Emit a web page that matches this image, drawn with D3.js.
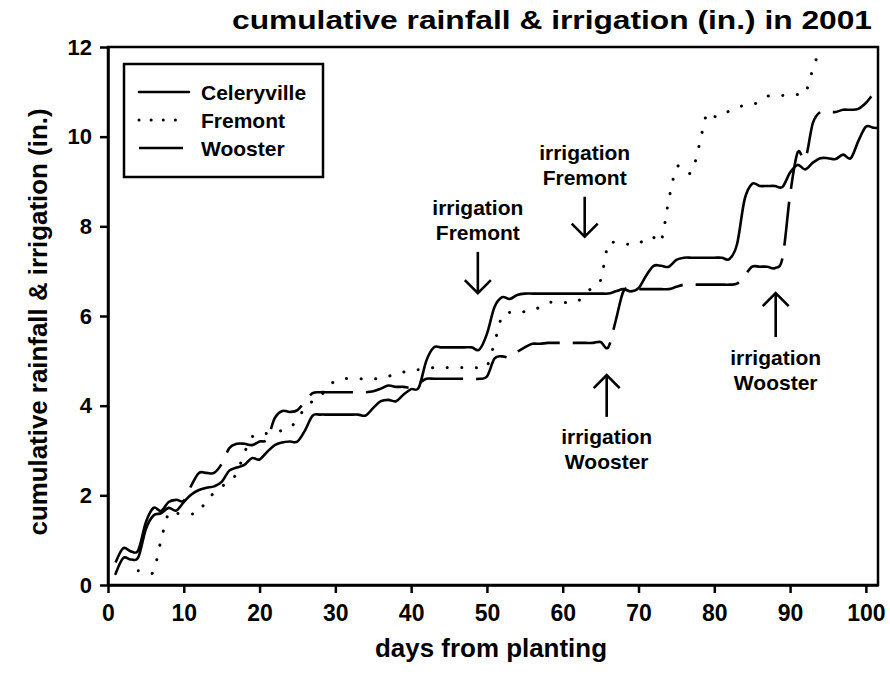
<!DOCTYPE html>
<html>
<head>
<meta charset="utf-8">
<script src="https://cdn.jsdelivr.net/npm/d3@7"></script>
<style>
  body { margin: 0; background: #fff; }
  svg text { font-family: "Liberation Sans", Arial, sans-serif; font-weight: bold; fill: #000; }
  .axis path, .axis line { stroke: #000; stroke-width: 2.5; }
</style>
</head>
<body>
<svg id="chart" width="890" height="691"></svg>
<script>
// days from planting (x categories)
const days = d3.range(1, 103);
const fremontFirstDay = 4;

// cumulative rainfall & irrigation (in.), one value per day
const celeryville = [
  0.25, 0.6, 0.57, 0.62, 1.25, 1.55, 1.6, 1.72, 1.66, 1.85,
  2.02, 2.12, 2.17, 2.2, 2.3, 2.55, 2.62, 2.68, 2.83, 2.8,
  2.97, 3.12, 3.18, 3.2, 3.2, 3.45, 3.78, 3.8, 3.8, 3.8,
  3.8, 3.8, 3.8, 3.78, 3.95, 4.1, 4.13, 4.1, 4.25, 4.37,
  4.4, 5.0, 5.3, 5.3, 5.3, 5.3, 5.3, 5.3, 5.25, 5.6,
  6.2, 6.42, 6.38, 6.47, 6.5, 6.5, 6.5, 6.5, 6.5, 6.5,
  6.5, 6.5, 6.5, 6.5, 6.5, 6.5, 6.55, 6.6, 6.55, 6.62,
  6.9, 7.12, 7.12, 7.1, 7.25, 7.3, 7.3, 7.3, 7.3, 7.3,
  7.3, 7.27, 7.6, 8.6, 8.95, 8.9, 8.9, 8.9, 8.88, 9.2,
  9.37, 9.27, 9.42, 9.52, 9.52, 9.5, 9.6, 9.52, 9.9, 10.22,
  10.2, 10.18
];
const wooster = [
  0.5, 0.82, 0.75, 0.78, 1.4, 1.72, 1.65, 1.85, 1.9, 1.88,
  2.22, 2.5, 2.5, 2.5, 2.7, 3.05, 3.15, 3.15, 3.12, 3.2,
  3.25, 3.72, 3.88, 3.86, 3.9, 4.1, 4.28, 4.3, 4.3, 4.3,
  4.3, 4.3, 4.3, 4.3, 4.32, 4.38, 4.45, 4.42, 4.42, 4.4,
  4.5, 4.6, 4.6, 4.6, 4.6, 4.6, 4.6, 4.6, 4.6, 4.65,
  5.05, 5.1, 5.08, 5.2, 5.3, 5.38, 5.38, 5.4, 5.4, 5.4,
  5.4, 5.4, 5.4, 5.4, 5.42, 5.3, 5.9, 6.55, 6.6, 6.6,
  6.6, 6.6, 6.6, 6.6, 6.65, 6.7, 6.7, 6.7, 6.7, 6.7,
  6.7, 6.7, 6.72, 6.9, 7.1, 7.1, 7.1, 7.07, 7.3, 8.7,
  9.65, 9.5, 10.3, 10.55, 10.55, 10.55, 10.6, 10.6, 10.62, 10.75,
  10.95, 11.05
];
const fremont = [
  0.32, 0.3, 0.3, 1.0, 1.6, 1.6, 1.58,
  1.58, 1.62, 1.9, 2.05, 2.2, 2.3, 2.5, 2.95, 3.3, 3.38,
  3.38, 3.4, 3.45, 3.5, 3.7, 3.95, 4.1, 4.2, 4.42, 4.55,
  4.6, 4.6, 4.6, 4.6, 4.6, 4.6, 4.65, 4.72, 4.75, 4.8,
  4.8, 4.82, 4.85, 4.85, 4.85, 4.85, 4.85, 4.85, 4.85, 4.88,
  5.4, 6.0, 6.08, 6.05, 6.1, 6.13, 6.2, 6.3, 6.3, 6.3,
  6.3, 6.33, 6.5, 6.65, 6.8, 7.6, 7.62, 7.6, 7.6, 7.6,
  7.75, 7.75, 7.68, 8.6, 9.3, 9.3, 9.2, 9.8, 10.5, 10.45,
  10.45, 10.58, 10.65, 10.7, 10.72, 10.78, 10.9, 10.92, 10.92, 10.93,
  10.94, 10.97, 11.5, 12.0, 12.5
];

const seriesNames = ["Celeryville", "Fremont", "Wooster"];
const xTicks = [0, 10, 20, 30, 40, 50, 60, 70, 80, 90, 100];
const yTicks = [0, 2, 4, 6, 8, 10, 12];

// irrigation arrows: day, arrow tail and tip (in.), label lines
const irrigationNotes = [
  { day: 48.8, tail: 7.43, tip: 6.51, lines: ["irrigation", "Fremont"] },
  { day: 62.9, tail: 8.66, tip: 7.77, lines: ["irrigation", "Fremont"] },
  { day: 65.8, tail: 3.75, tip: 4.68, lines: ["irrigation", "Wooster"] },
  { day: 88.1, tail: 5.53, tip: 6.51, lines: ["irrigation", "Wooster"] }
];

const svg = d3.select("#chart");
const plotLeft = 108, plotRight = 878, plotTop = 47, plotBottom = 585;

const x = d3.scaleLinear().domain([0, 101.6]).range([plotLeft, plotRight]);
const y = d3.scaleLinear().domain([0, 12]).range([plotBottom, plotTop]);

svg.append("clipPath").attr("id", "plot-clip")
  .append("rect")
  .attr("x", plotLeft).attr("y", plotTop)
  .attr("width", plotRight - plotLeft).attr("height", plotBottom - plotTop);

// frame
svg.append("rect")
  .attr("x", plotLeft).attr("y", plotTop)
  .attr("width", plotRight - plotLeft).attr("height", plotBottom - plotTop)
  .attr("fill", "none").attr("stroke", "#000").attr("stroke-width", 2.5);

const xAxis = svg.append("g")
  .attr("class", "axis")
  .attr("transform", `translate(0,${plotBottom})`)
  .call(d3.axisBottom(x).tickValues(xTicks).tickSize(8).tickSizeOuter(0).tickPadding(12));
xAxis.selectAll("text").style("font-size", "23px");

const yAxis = svg.append("g")
  .attr("class", "axis")
  .attr("transform", `translate(${plotLeft},0)`)
  .call(d3.axisLeft(y).tickValues(yTicks).tickSize(8).tickSizeOuter(0).tickPadding(8));
yAxis.selectAll("text").style("font-size", "22px");

const line = d3.line()
  .x(d => x(d[0]))
  .y(d => y(d[1]))
  .curve(d3.curveCardinal.tension(0));

const styles = {
  Celeryville: { dash: null, cap: "round" },
  Fremont: { dash: "0.1,14.5", cap: "round" },
  Wooster: { dash: "44,13", cap: "butt" }
};

const seriesData = {
  Celeryville: celeryville.map((v, i) => [days[i], v]),
  Fremont: fremont.map((v, i) => [fremontFirstDay + i, v]),
  Wooster: wooster.map((v, i) => [days[i], v])
};

const plot = svg.append("g").attr("clip-path", "url(#plot-clip)");
seriesNames.forEach(name => {
  const p = plot.append("path")
    .datum(seriesData[name])
    .attr("d", line)
    .attr("fill", "none")
    .attr("stroke", "#000")
    .attr("stroke-width", name === "Fremont" ? 3 : 2.6)
    .attr("stroke-linecap", styles[name].cap)
    .attr("stroke-dasharray", styles[name].dash);

  if (name === "Wooster") {
    // the first Wooster dash runs unbroken up to about day 10
    const node = p.node();
    const total = node.getTotalLength();
    let lo = 0, hi = total;
    while (hi - lo > 0.5) {
      const mid = (lo + hi) / 2;
      if (node.getPointAtLength(mid).x < x(10.1)) lo = mid; else hi = mid;
    }
    const pattern = [lo, 13];
    for (let len = lo + 13; len < total; len += 57) pattern.push(44, 13);
    p.attr("stroke-dasharray", pattern.join(","));
  }
});

// irrigation arrows
irrigationNotes.forEach(n => {
  const ax = x(n.day), y0 = y(n.tail), y1 = y(n.tip);
  const dir = y1 > y0 ? 1 : -1;
  svg.append("line")
    .attr("x1", ax).attr("y1", y0).attr("x2", ax).attr("y2", y1)
    .attr("stroke", "#000").attr("stroke-width", 2.6);
  svg.append("path")
    .attr("d", `M${ax - 13},${y1 - dir * 13} L${ax},${y1} L${ax + 13},${y1 - dir * 13}`)
    .attr("fill", "none").attr("stroke", "#000").attr("stroke-width", 2.6);
  const t = svg.append("text")
    .attr("text-anchor", "middle")
    .style("font-size", "21px");
  const firstBase = dir > 0 ? y0 - 37 : y0 + 27.5;
  n.lines.forEach((s, i) => {
    t.append("tspan").attr("x", ax).attr("y", firstBase + i * 25).text(s);
  });
});

// legend
const legend = svg.append("g");
legend.append("rect")
  .attr("x", 124).attr("y", 64).attr("width", 199).attr("height", 113)
  .attr("fill", "#fff").attr("stroke", "#000").attr("stroke-width", 2.5);
seriesNames.forEach((name, i) => {
  const ly = 92 + i * 28;
  legend.append("line")
    .attr("x1", 139).attr("x2", name === "Celeryville" ? 189 : 185)
    .attr("y1", ly).attr("y2", ly)
    .attr("stroke", "#000")
    .attr("stroke-width", name === "Fremont" ? 3 : 2.6)
    .attr("stroke-linecap", styles[name].cap)
    .attr("stroke-dasharray", name === "Fremont" ? "0.1,12" : styles[name].dash);
  legend.append("text")
    .attr("x", 201).attr("y", ly + 8)
    .style("font-size", "21px")
    .text(name);
});

// titles
svg.append("text")
  .attr("x", 552).attr("y", 29)
  .attr("text-anchor", "middle")
  .attr("textLength", 640)
  .attr("lengthAdjust", "spacingAndGlyphs")
  .style("font-size", "25px")
  .text("cumulative rainfall & irrigation (in.) in 2001");

svg.append("text")
  .attr("x", 491).attr("y", 657)
  .attr("text-anchor", "middle")
  .attr("textLength", 232)
  .attr("lengthAdjust", "spacingAndGlyphs")
  .style("font-size", "25px")
  .text("days from planting");

svg.append("text")
  .attr("transform", `translate(47,322) rotate(-90)`)
  .attr("text-anchor", "middle")
  .attr("textLength", 427)
  .attr("lengthAdjust", "spacingAndGlyphs")
  .style("font-size", "25px")
  .text("cumulative rainfall & irrigation (in.)");
</script>
</body>
</html>
